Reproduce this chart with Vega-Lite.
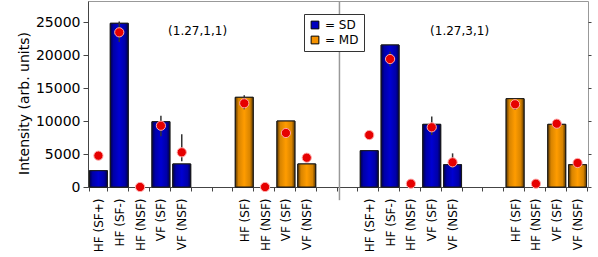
{
  "$schema": "https://vega.github.io/schema/vega-lite/v6.json",
  "width": 500,
  "height": 186,
  "autosize": {"type": "none"},
  "padding": {"left": 88, "top": 1, "right": 10, "bottom": 70},
  "background": "white",
  "config": {
    "view": {"stroke": "#999", "strokeWidth": 1},
    "font": "DejaVu Sans"
  },
  "data": {
    "values": [
      {"slot": "0|HF (SF+)", "series": "SD", "bar": 2470, "dot": 4750},
      {"slot": "1|HF (SF-)", "series": "SD", "bar": 24820, "dot": 23450, "lo": 22000, "hi": 25100},
      {"slot": "2|HF (NSF)", "series": "SD", "dot": 0},
      {"slot": "3|VF (SF)", "series": "SD", "bar": 9900, "dot": 9290, "lo": 7700, "hi": 10800},
      {"slot": "4|VF (NSF)", "series": "SD", "bar": 3490, "dot": 5260, "lo": 3900, "hi": 8000},
      {"slot": "7|HF (SF)", "series": "MD", "bar": 13600, "dot": 12690, "lo": 11800, "hi": 13900},
      {"slot": "8|HF (NSF)", "series": "MD", "dot": 0},
      {"slot": "9|VF (SF)", "series": "MD", "bar": 10000, "dot": 8190},
      {"slot": "10|VF (NSF)", "series": "MD", "bar": 3490, "dot": 4440},
      {"slot": "13|HF (SF+)", "series": "SD", "bar": 5500, "dot": 7880},
      {"slot": "14|HF (SF-)", "series": "SD", "bar": 21530, "dot": 19400, "lo": 18300, "hi": 20500},
      {"slot": "15|HF (NSF)", "series": "SD", "dot": 500},
      {"slot": "16|VF (SF)", "series": "SD", "bar": 9500, "dot": 9050, "lo": 7900, "hi": 10700},
      {"slot": "17|VF (NSF)", "series": "SD", "bar": 3380, "dot": 3745, "lo": 2900, "hi": 5100},
      {"slot": "20|HF (SF)", "series": "MD", "bar": 13390, "dot": 12540, "lo": 11700, "hi": 13100},
      {"slot": "21|HF (NSF)", "series": "MD", "dot": 500},
      {"slot": "22|VF (SF)", "series": "MD", "bar": 9500, "dot": 9600},
      {"slot": "23|VF (NSF)", "series": "MD", "bar": 3380, "dot": 3640}
    ]
  },
  "resolve": {"axis": {"y": "independent"}},
  "layer": [
    {
      "mark": {"type": "bar", "stroke": "#1a1a1a", "strokeWidth": 1},
      "encoding": {
        "x": {
          "field": "slot",
          "type": "nominal",
          "sort": null,
          "scale": {
            "domain": ["0|HF (SF+)", "1|HF (SF-)", "2|HF (NSF)", "3|VF (SF)", "4|VF (NSF)", "5|", "6|", "7|HF (SF)", "8|HF (NSF)", "9|VF (SF)", "10|VF (NSF)", "11|", "12|", "13|HF (SF+)", "14|HF (SF-)", "15|HF (NSF)", "16|VF (SF)", "17|VF (NSF)", "18|", "19|", "20|HF (SF)", "21|HF (NSF)", "22|VF (SF)", "23|VF (NSF)"],
            "paddingInner": 0.14,
            "paddingOuter": 0.07
          },
          "axis": {
            "title": null,
            "labelExpr": "split(datum.value, '|')[1]",
            "labelAngle": -90,
            "labelFontSize": 12,
            "labelColor": "#000",
            "labelPadding": 7,
            "tickBand": "extent",
            "tickSize": 4,
            "tickColor": "#444",
            "domainColor": "#444"
          }
        },
        "y": {
          "field": "bar",
          "type": "quantitative",
          "scale": {"domain": [0, 28200], "nice": false},
          "axis": {
            "values": [0, 5000, 10000, 15000, 20000, 25000],
            "format": "d",
            "title": "Intensity (arb. units)",
            "titleFontSize": 14,
            "titleFontWeight": "normal",
            "titleColor": "#000",
            "titleX": -57,
            "titleY": 102,
            "labelFontSize": 14,
            "labelColor": "#000",
            "labelPadding": 3,
            "tickSize": 5,
            "tickColor": "#444",
            "domainColor": "#444",
            "grid": false
          }
        },
        "fill": {
          "field": "series",
          "type": "nominal",
          "scale": {"domain": ["SD", "MD"], "range": ["#0000c0", "#f59200"]},
          "legend": {
            "title": null,
            "orient": "none",
            "legendX": 216,
            "legendY": 13,
            "labelExpr": "'= ' + datum.label + '\u00a0\u00a0\u00a0\u00a0'",
            "labelFontSize": 12,
            "labelColor": "#000",
            "labelOffset": 4,
            "symbolType": "square",
            "symbolSize": 60,
            "symbolStrokeColor": "#000",
            "symbolStrokeWidth": 1,
            "symbolOpacity": 1,
            "rowPadding": 3,
            "padding": 5,
            "strokeColor": "#333",
            "fillColor": "white"
          }
        }
      }
    },
    {
      "transform": [{"filter": "datum.series == 'SD' && isValid(datum.bar)"}],
      "mark": {
        "type": "bar", "stroke": "#1a1a1a", "strokeWidth": 1,
        "fill": {"gradient": "linear", "x1": 0, "y1": 0, "x2": 1, "y2": 0, "stops": [{"offset": 0, "color": "#00004a"}, {"offset": 0.18, "color": "#0000a8"}, {"offset": 0.5, "color": "#0000d2"}, {"offset": 0.82, "color": "#0000a8"}, {"offset": 1, "color": "#00004a"}]}
      },
      "encoding": {
        "x": {"field": "slot", "type": "nominal"},
        "y": {"field": "bar", "type": "quantitative", "scale": {"domain": [0, 28200], "nice": false}, "axis": null}
      }
    },
    {
      "transform": [{"filter": "datum.series == 'MD' && isValid(datum.bar)"}],
      "mark": {
        "type": "bar", "stroke": "#1a1a1a", "strokeWidth": 1,
        "fill": {"gradient": "linear", "x1": 0, "y1": 0, "x2": 1, "y2": 0, "stops": [{"offset": 0, "color": "#5a3600"}, {"offset": 0.18, "color": "#d88400"}, {"offset": 0.5, "color": "#ff9c00"}, {"offset": 0.82, "color": "#d88400"}, {"offset": 1, "color": "#5a3600"}]}
      },
      "encoding": {
        "x": {"field": "slot", "type": "nominal"},
        "y": {"field": "bar", "type": "quantitative", "scale": {"domain": [0, 28200], "nice": false}, "axis": null}
      }
    },
    {
      "transform": [{"filter": "isValid(datum.lo)"}],
      "mark": {"type": "rule", "color": "#333", "strokeWidth": 1.5},
      "encoding": {
        "x": {"field": "slot", "type": "nominal"},
        "y": {"field": "lo", "type": "quantitative", "scale": {"domain": [0, 28200], "nice": false}, "axis": null},
        "y2": {"field": "hi"}
      }
    },
    {
      "mark": {"type": "point", "filled": true, "fill": "#e60000", "stroke": "#ffaaaa", "strokeWidth": 1, "size": 85, "opacity": 1},
      "encoding": {
        "x": {"field": "slot", "type": "nominal"},
        "y": {
          "field": "dot",
          "type": "quantitative",
          "scale": {"domain": [0, 28200], "nice": false},
          "axis": {
            "orient": "right",
            "values": [0, 5000, 10000, 15000, 20000, 25000],
            "labels": false,
            "title": null,
            "domain": false,
            "grid": false,
            "tickSize": 3,
            "tickColor": "#444"
          }
        }
      }
    },
    {
      "data": {"values": [{"slot": "12|", "top": 28200, "bot": -2000}]},
      "mark": {"type": "rule", "color": "#999", "strokeWidth": 1.5},
      "encoding": {
        "x": {"field": "slot", "type": "nominal", "bandPosition": 0},
        "y": {"field": "top", "type": "quantitative", "scale": {"domain": [0, 28200], "nice": false}, "axis": null},
        "y2": {"field": "bot"}
      }
    },
    {
      "data": {"values": [{"slot": "5|", "v": 23650, "txt": "(1.27,1,1)"}]},
      "mark": {"type": "text", "fontSize": 12, "color": "#000", "baseline": "middle", "dx": -5},
      "encoding": {
        "x": {"field": "slot", "type": "nominal"},
        "y": {"field": "v", "type": "quantitative", "scale": {"domain": [0, 28200], "nice": false}, "axis": null},
        "text": {"field": "txt"}
      }
    },
    {
      "data": {"values": [{"slot": "17|VF (NSF)", "v": 23650, "txt": "(1.27,3,1)"}]},
      "mark": {"type": "text", "fontSize": 12, "color": "#000", "baseline": "middle", "dx": 7},
      "encoding": {
        "x": {"field": "slot", "type": "nominal"},
        "y": {"field": "v", "type": "quantitative", "scale": {"domain": [0, 28200], "nice": false}, "axis": null},
        "text": {"field": "txt"}
      }
    }
  ]
}
